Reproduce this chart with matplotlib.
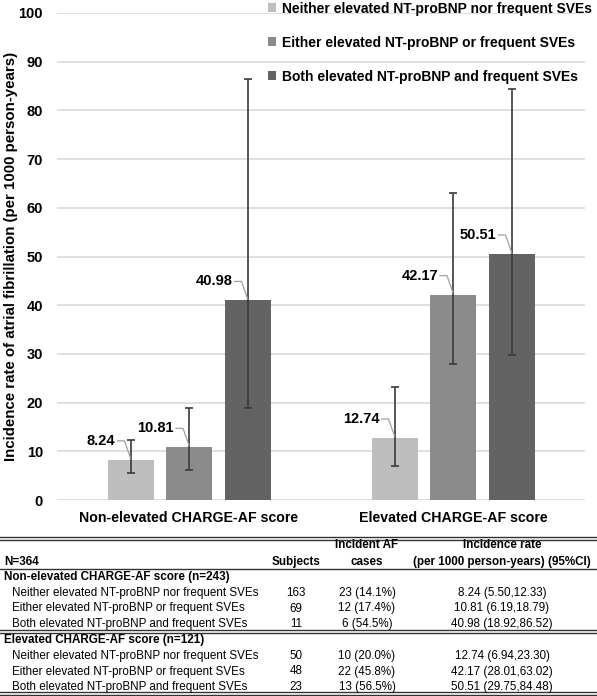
import matplotlib
matplotlib.use("Agg")
import matplotlib.pyplot as plt
from matplotlib.patches import Patch
from matplotlib.lines import Line2D
from matplotlib.transforms import Affine2D
import matplotlib.font_manager as fm
import numpy as np

# ---------------- data ----------------
groups = ["Non-elevated CHARGE-AF score", "Elevated CHARGE-AF score"]
series = ["Neither elevated NT-proBNP nor frequent SVEs",
          "Either elevated NT-proBNP or frequent SVEs",
          "Both elevated NT-proBNP and frequent SVEs"]
rate_nonelev = [8.24, 10.81, 40.98]
low_nonelev = [5.50, 6.19, 18.92]
high_nonelev = [12.33, 18.79, 86.52]
rate_elev = [12.74, 42.17, 50.51]
low_elev = [6.94, 28.01, 29.75]
high_elev = [23.30, 63.02, 84.48]
yticks = [0, 10, 20, 30, 40, 50, 60, 70, 80, 90, 100]
ylabel = "Incidence rate of atrial fibrillation (per 1000 person-years)"

# table
tab_total = "N=364"
tab_headers = ["Subjects", "Incident AF\ncases", "Incidence rate\n(per 1000 person-years) (95%CI)"]
tab_group_titles = ["Non-elevated CHARGE-AF score (n=243)", "Elevated CHARGE-AF score (n=121)"]
subjects_nonelev = [163, 69, 11]
cases_nonelev = [23, 12, 6]
pct_nonelev = [14.1, 17.4, 54.5]
subjects_elev = [50, 48, 23]
cases_elev = [10, 22, 13]
pct_elev = [20.0, 45.8, 56.5]

# ---------------- style ----------------
avail = {f.name for f in fm.fontManager.ttflist}
fam = [f for f in ["Liberation Sans Narrow", "Liberation Sans", "DejaVu Sans"] if f in avail]
plt.rcParams["font.family"] = fam
colors = ["#bebebe", "#8b8b8b", "#636363"]
err_color = "#3a3a3a"
W, H = 597, 696

fig = plt.figure(figsize=(W / 100, H / 100), dpi=100)
ax = fig.add_axes([57 / W, 1 - 500 / H, (585 - 57) / W, (500 - 13) / H])

rates = [rate_nonelev, rate_elev]
lows = [low_nonelev, low_elev]
highs = [high_nonelev, high_elev]
bw = 46 / 264
step = 58.5 / 264
gx = np.arange(len(groups))
label_pos = []
for s in range(3):
    xs = gx + (s - 1) * step
    vals = [rates[g][s] for g in range(2)]
    lo = [rates[g][s] - lows[g][s] for g in range(2)]
    hi = [highs[g][s] - rates[g][s] for g in range(2)]
    ax.bar(xs, vals, width=bw, color=colors[s], zorder=2, label=series[s])
    ax.errorbar(xs, vals, yerr=[lo, hi], fmt="none", ecolor=err_color,
                elinewidth=1.2, capsize=3, capthick=1.2, zorder=3)
    for x, v in zip(xs, vals):
        label_pos.append((x, v))

ax.set_xlim(-0.5, 1.5)
ax.set_ylim(0, 100)
ax.set_yticks(yticks)
ax.set_yticklabels([str(t) for t in yticks], fontsize=10.5, fontweight="bold")
ax.set_xticks(gx)
ax.set_xticklabels(groups, fontsize=10.2, fontweight="bold")
ax.tick_params(axis="both", length=0)
ax.tick_params(axis="y", pad=10)
ax.tick_params(axis="x", pad=8)
ax.grid(axis="y", color="#d9d9d9", linewidth=1.2, zorder=0)
ax.set_axisbelow(True)
for sp in ax.spines.values():
    sp.set_visible(False)
ax.set_ylabel(ylabel, fontsize=10.8, fontweight="bold", va="center")
ax.yaxis.set_label_coords((11 - 57) / 528, 0.5)

# data labels with leader lines (pixel offsets)
fig.canvas.draw()
for x, v in label_pos:
    px, py = ax.transData.transform((x, v))
    ax.text(px - 15, py + 19, f"{v:.2f}", transform=Affine2D(), ha="right", va="center",
            fontsize=10.5, fontweight="bold", zorder=5)
    fig.add_artist(Line2D([px - 13, px - 6, px], [py + 19, py + 19, py + 2],
                          transform=Affine2D(), color="#a0a0a0", lw=0.9, zorder=5))

# legend
handles = [Patch(facecolor=c) for c in colors]
fig.legend(handles, series, loc="upper left", bbox_to_anchor=(268 / W, 1 - 1.5 / H),
           frameon=False, prop={"weight": "bold", "size": 10}, handlelength=0.6,
           handleheight=0.6, handletextpad=0.4, labelspacing=1.45, borderpad=0,
           borderaxespad=0)

# ---------------- table ----------------
def fy(y):
    return 1 - y / H

def hline(y, lw=1.0, color="#333333"):
    fig.add_artist(Line2D([0, 1], [fy(y), fy(y)], transform=fig.transFigure,
                          color=color, lw=lw))

def dline(y):
    hline(y - 1.5, lw=1.0)
    hline(y + 1.5, lw=1.0)

tfs = 8.4
col_x = [296 / W, 367 / W, 502 / W]
fig.text(4 / W, fy(562), tab_total, fontsize=tfs, fontweight="bold", va="center")
fig.text(col_x[0], fy(562), tab_headers[0], fontsize=tfs, fontweight="bold", va="center", ha="center")
for i in (1, 2):
    a, b = tab_headers[i].split("\n")
    fig.text(col_x[i], fy(545), a, fontsize=tfs, fontweight="bold", va="center", ha="center")
    fig.text(col_x[i], fy(562), b, fontsize=tfs, fontweight="bold", va="center", ha="center")

dline(538)
hline(569, lw=1.0)
group_rows = [(577, [593, 608.5, 624]), (639.5, [656, 671.5, 687])]
subs = [subjects_nonelev, subjects_elev]
cases = [cases_nonelev, cases_elev]
pcts = [pct_nonelev, pct_elev]
for g, (ty, rows) in enumerate(group_rows):
    fig.text(4 / W, fy(ty), tab_group_titles[g], fontsize=tfs, fontweight="bold", va="center")
    for s, ry in enumerate(rows):
        fig.text(12 / W, fy(ry), series[s], fontsize=tfs, va="center")
        fig.text(col_x[0], fy(ry), str(subs[g][s]), fontsize=tfs, va="center", ha="center")
        fig.text(col_x[1], fy(ry), f"{cases[g][s]} ({pcts[g][s]:.1f}%)", fontsize=tfs,
                 va="center", ha="center")
        fig.text(col_x[2], fy(ry),
                 f"{rates[g][s]:.2f} ({lows[g][s]:.2f},{highs[g][s]:.2f})",
                 fontsize=tfs, va="center", ha="center")
dline(631)
dline(693)

fig.savefig("out.png", dpi=100)
